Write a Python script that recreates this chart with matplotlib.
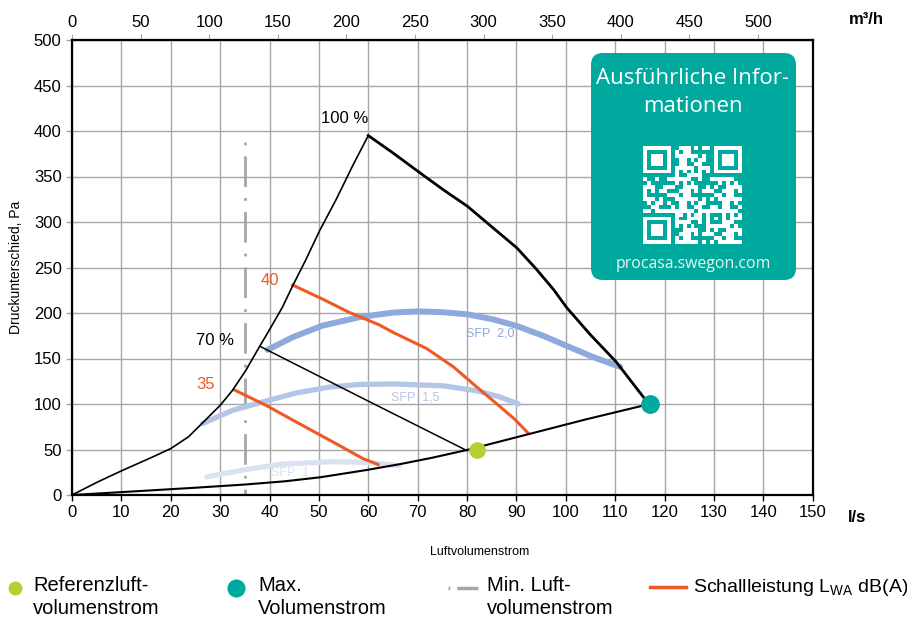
import numpy as np
import matplotlib
matplotlib.use("Agg")
import matplotlib.pyplot as plt
from matplotlib.patches import FancyBboxPatch
from matplotlib.lines import Line2D

plt.rcParams['font.family'] = ['Liberation Sans', 'DejaVu Sans']
plt.rcParams['mathtext.fontset'] = 'custom'
plt.rcParams['mathtext.rm'] = 'Liberation Sans'

# Kennlinien (l/s, Pa)
full_x = [0, 5.3, 10.4, 15.6, 20, 23.6, 26.4, 30, 32.5, 35.2, 37.9, 39.9, 42.6, 44.7, 47.4,
          50.1, 53.5, 56.8, 60]
full_y = [0, 14.6, 27.5, 40, 51, 64, 79, 98.5, 115, 136.9, 162.4, 180.7, 206.2, 230, 259,
          290, 324.8, 361.4, 395]

max_x = [60, 65.1, 70.1, 75.2, 80.1, 85.3, 90.1, 94.1, 97.5, 100.2, 105, 110.2, 116.8]
max_y = [395, 375.5, 355.5, 335.4, 317.2, 293.4, 271.5, 247.8, 225.9, 205.8, 176, 146.3, 100]

min_x = [0, 12, 25, 35, 43, 50.3, 59.7, 66.5, 73, 80, 92.2, 104, 117]
min_y = [0, 3.8, 8, 11.5, 15, 19.5, 27.5, 34, 41, 49.5, 66.5, 83, 100]

p70_x = [38.2, 59.7, 80]
p70_y = [163, 104, 48.7]

db40_x = [44.7, 50.7, 56.1, 62.2, 65.1, 71.8, 77.2, 81.9, 86.7, 89.7, 92.4]
db40_y = [230.7, 215.4, 200.8, 187, 178.5, 161, 141, 119, 97, 83, 67.8]
db35_x = [32.8, 39.3, 46, 52.8, 58.9, 62]
db35_y = [115.7, 98.5, 78.5, 58.4, 40.1, 33.5]

sfp20_x = [39.6, 44.7, 50.7, 58.3, 65.1, 70.1, 75.2, 80.1, 85.3, 90.1, 95.5, 100.2, 105.6, 111]
sfp20_y = [159.5, 173.4, 186.1, 195.5, 200.5, 201.8, 200.8, 198.5, 193, 185.7, 174.8, 163.8, 151.5, 140.8]
sfp15_x = [26.4, 32.5, 38.6, 45.3, 52.1, 58.3, 65.1, 75.2, 81.9, 86.5, 90.4]
sfp15_y = [78.5, 93, 102.2, 112, 118.6, 121.5, 122, 120, 114.6, 108, 100]
sfp10_x = [27.3, 35.4, 42.2, 52.3, 59.7, 66.2]
sfp10_y = [20, 28.2, 33.7, 36.6, 35.9, 32.2]

ref_point = (82, 50)
max_point = (117, 100)
min_flow = 35
min_flow_top = 388

x_ticks = np.arange(0, 151, 10)
y_ticks = np.arange(0, 501, 50)
top_ticks = np.arange(0, 501, 50)

GRID = '#A6A6A6'
ORANGE = '#EE5A24'
TEAL = '#00A99D'
LIME = '#B3CF32'

fig = plt.figure(figsize=(9.07, 6.27), dpi=100)
ax = fig.add_axes([72 / 907, 1 - 495 / 627, 740.7 / 907, 455 / 627])
ax.set_xlim(0, 150)
ax.set_ylim(0, 500)
ax.set_xticks(x_ticks)
ax.set_yticks(y_ticks)
ax.grid(True, color=GRID, lw=1.0)
ax.set_axisbelow(True)
for s in ax.spines.values():
    s.set_linewidth(1.6)
ax.tick_params(axis='both', labelsize=12, length=4, width=1, direction='out')
ax.tick_params(axis='y', color=GRID)
ax.set_ylabel('Druckunterschied, Pa', fontsize=10, labelpad=8)

top = ax.secondary_xaxis('top', functions=(lambda v: v * 3.6, lambda v: v / 3.6))
top.set_xticks(top_ticks)
top.tick_params(labelsize=12, length=4, color=GRID)

# SFP-Kurven
ax.text(84.7, 178, 'SFP  2,0', color='#8EA9DB', fontsize=9, ha='center', va='center', zorder=2)
ax.text(69.5, 106.6, 'SFP  1,5', color='#B4C6E7', fontsize=9, ha='center', va='center', zorder=2)
ax.text(44.2, 24, 'SFP  1', color='#D9E2F3', fontsize=9, ha='center', va='center', zorder=2)
ax.plot(sfp20_x, sfp20_y, color='#8EA9DB', lw=4.3, solid_capstyle='round',
        solid_joinstyle='round', zorder=3)
ax.plot(sfp15_x, sfp15_y, color='#B4C6E7', lw=3.8, solid_capstyle='round',
        solid_joinstyle='round', zorder=3)
ax.plot(sfp10_x, sfp10_y, color='#D9E2F3', lw=3.8, solid_capstyle='round',
        solid_joinstyle='round', zorder=3)

# Schallleistung
ax.plot(db40_x, db40_y, color=ORANGE, lw=2.2, zorder=4)
ax.plot(db35_x, db35_y, color=ORANGE, lw=2.2, zorder=4)
ax.text(40.1, 236, '40', color=ORANGE, fontsize=12, ha='center', va='center')
ax.text(27, 121, '35', color=ORANGE, fontsize=12, ha='center', va='center')

# Min. Luftvolumenstrom
ax.plot([min_flow, min_flow], [min_flow_top, 0], color='#A6A6A6', lw=2,
        linestyle=(0, (1, 4, 11, 4)), zorder=2)

# Ventilatorkennlinien
ax.plot(full_x, full_y, color='black', lw=1.2, zorder=5)
ax.plot(max_x, max_y, color='black', lw=2.0, zorder=5)
ax.plot(min_x, min_y, color='black', lw=1.5, zorder=5)
ax.plot(p70_x, p70_y, color='black', lw=1.1, zorder=5)
ax.text(55.3, 414, '100 %', fontsize=12, ha='center', va='center')
ax.text(29, 170, '70 %', fontsize=12, ha='center', va='center')

ax.plot(*ref_point, 'o', color=LIME, ms=11, zorder=6)
ax.plot(*max_point, 'o', color=TEAL, ms=12.5, zorder=6)

fig.text(857 / 907, 1 - 517 / 627, 'l/s', fontsize=12, fontweight='bold', ha='center', va='center')
fig.text(866 / 907, 1 - 20 / 627, 'm³/h', fontsize=12, fontweight='bold', ha='center', va='center')
fig.text(480 / 907, 1 - 552 / 627, 'Luftvolumenstrom', fontsize=9, ha='center', va='center')

# Info-Box mit QR-Code
bx = fig.add_axes([591 / 907, 1 - 280 / 627, 205 / 907, 227 / 627])
bx.axis('off')
bx.add_patch(FancyBboxPatch((0, 0), 205, 227, boxstyle='round,pad=0,rounding_size=12',
                            fc=TEAL, ec='none'))
box_font = ['Open Sans', 'DejaVu Sans']
bx.text(102, 202, 'Ausführliche Infor-', color='white', fontsize=16, ha='center', va='center',
        family=box_font)
bx.text(102, 173, 'mationen', color='white', fontsize=16, ha='center', va='center',
        family=box_font)
bx.text(102, 16, 'procasa.swegon.com', color='#E6F6F4', fontsize=11.4, ha='center', va='center',
        family=box_font)

n = 25
ii, jj = np.meshgrid(np.arange(n), np.arange(n), indexing='ij')
qr = ((ii * ii * 3 + jj * jj * 5 + ii * jj * 7 + ii + 2 * jj) % 11) < 6
for r0, c0 in [(0, 0), (0, n - 7), (n - 7, 0)]:
    qr[max(r0 - 1, 0):r0 + 8, max(c0 - 1, 0):c0 + 8] = False
    qr[r0:r0 + 7, c0:c0 + 7] = True
    qr[r0 + 1:r0 + 6, c0 + 1:c0 + 6] = False
    qr[r0 + 2:r0 + 5, c0 + 2:c0 + 5] = True
qr[6, 8:n - 8] = np.arange(8, n - 8) % 2 == 0
qr[8:n - 8, 6] = np.arange(8, n - 8) % 2 == 0
qr[n - 9:n - 4, n - 9:n - 4] = True
qr[n - 8:n - 5, n - 8:n - 5] = False
qr[n - 7, n - 7] = True
qr_img = np.zeros((n, n, 4))
qr_img[qr] = [1, 1, 1, 1]
bx.imshow(qr_img, extent=[52.3, 151.3, 36, 134], interpolation='nearest', zorder=3)
bx.set_xlim(0, 205)
bx.set_ylim(0, 227)
bx.set_aspect('auto')

# Legende
fig.add_artist(Line2D([15 / 907], [1 - 588 / 627], marker='o', color=LIME, ms=9, lw=0))
fig.add_artist(Line2D([236 / 907], [1 - 588 / 627], marker='o', color=TEAL, ms=12, lw=0))
fig.add_artist(Line2D([448 / 907, 478 / 907], [1 - 588 / 627] * 2, color='#A6A6A6', lw=2.5,
                      linestyle=(0, (0.5, 2, 8, 2))))
fig.add_artist(Line2D([650 / 907, 686 / 907], [1 - 587 / 627] * 2, color=ORANGE, lw=2.5))
leg_items = [(33, 'Referenzluft-\nvolumenstrom'), (258, 'Max.\nVolumenstrom'),
             (487, 'Min. Luft-\nvolumenstrom')]
for x0, label in leg_items:
    fig.text(x0 / 907, 1 - 576 / 627, label, fontsize=14.5, ha='left', va='top',
             linespacing=1.3)
fig.text(693 / 907, 1 - 588 / 627, r'Schallleistung L$_{\mathrm{WA}}$ dB(A)', fontsize=14,
         ha='left', va='center')

fig.savefig('out.png', dpi=100)
